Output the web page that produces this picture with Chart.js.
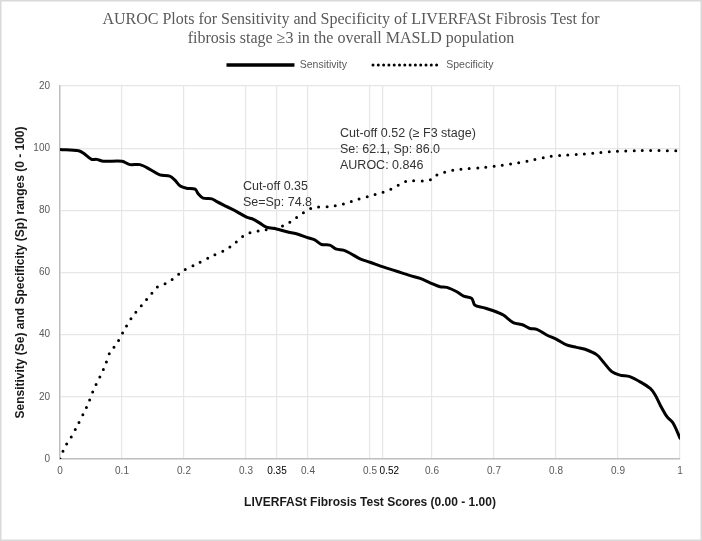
<!DOCTYPE html>
<html><head><meta charset="utf-8">
<script src="https://cdn.jsdelivr.net/npm/chart.js@4.4.1/dist/chart.umd.min.js"></script>
<style>html,body{margin:0;padding:0;background:#fff}</style>
</head><body>
<canvas id="c" width="702" height="541"></canvas>
<script>
// ---- data ----
const sensX = [0, 0.03, 0.038, 0.051, 0.059, 0.07, 0.1, 0.113, 0.129, 0.145, 0.161, 0.177, 0.185, 0.194, 0.204, 0.218, 0.223, 0.231, 0.245, 0.253, 0.269, 0.285, 0.301, 0.312, 0.323, 0.333, 0.349, 0.366, 0.384, 0.398, 0.411, 0.422, 0.435, 0.446, 0.457, 0.468, 0.484, 0.5, 0.521, 0.543, 0.565, 0.581, 0.597, 0.613, 0.624, 0.64, 0.651, 0.664, 0.669, 0.683, 0.699, 0.715, 0.731, 0.747, 0.758, 0.769, 0.785, 0.801, 0.817, 0.833, 0.847, 0.866, 0.876, 0.89, 0.903, 0.919, 0.935, 0.952, 0.96, 0.968, 0.979, 0.989, 1.0];
const sensY = [99.6, 99.2, 98.4, 96.4, 96.4, 95.8, 95.8, 94.7, 94.7, 93.2, 91.4, 91.0, 89.8, 87.8, 87.1, 86.8, 85.3, 83.9, 83.7, 82.8, 81.2, 79.6, 77.8, 77.1, 75.8, 74.6, 74.0, 73.1, 72.3, 71.3, 70.5, 69.0, 68.8, 67.5, 67.2, 66.2, 64.4, 63.3, 61.8, 60.4, 59.0, 58.1, 56.7, 55.4, 55.2, 53.8, 52.4, 51.7, 49.5, 48.7, 47.7, 46.3, 43.9, 43.1, 42.0, 41.7, 39.9, 38.5, 36.7, 35.9, 35.3, 33.5, 31.3, 28.1, 27.0, 26.5, 24.9, 22.7, 20.6, 17.4, 13.6, 11.5, 6.7];
const specX = [0, 0.008, 0.016, 0.027, 0.038, 0.046, 0.054, 0.065, 0.073, 0.081, 0.091, 0.103, 0.116, 0.132, 0.148, 0.156, 0.169, 0.18, 0.199, 0.22, 0.245, 0.266, 0.279, 0.289, 0.3, 0.312, 0.325, 0.349, 0.363, 0.376, 0.387, 0.398, 0.409, 0.433, 0.457, 0.481, 0.505, 0.519, 0.53, 0.54, 0.551, 0.562, 0.589, 0.6, 0.608, 0.618, 0.632, 0.645, 0.685, 0.712, 0.739, 0.763, 0.79, 0.817, 0.844, 0.871, 0.898, 0.93, 1.0];
const specY = [0, 4.0, 6.3, 10.4, 14.7, 18.1, 22.2, 26.7, 30.2, 34.5, 36.9, 41.3, 45.6, 49.5, 53.3, 55.2, 56.3, 57.6, 60.6, 62.7, 65.3, 67.2, 68.9, 70.7, 72.3, 73.1, 73.5, 74.4, 75.3, 76.9, 78.5, 79.9, 80.9, 81.2, 82.0, 83.6, 84.9, 85.7, 86.5, 87.4, 88.7, 89.5, 89.5, 90.0, 91.4, 92.1, 92.8, 93.2, 93.8, 94.5, 95.3, 96.2, 97.3, 97.8, 98.1, 98.6, 99.0, 99.2, 99.2];
const seriesNames = ['Sensitivity', 'Specificity'];
const xTickValues = [0, 0.1, 0.2, 0.3, 0.35, 0.4, 0.5, 0.52, 0.6, 0.7, 0.8, 0.9, 1];
const xTickLabels = ['0', '0.1', '0.2', '0.3', '0.35', '0.4', '0.5', '     0.52', '0.6', '0.7', '0.8', '0.9', '1'];
const xHighlight = [0.35, 0.52];
const yTickValues = [0, 20, 40, 60, 80, 100, 120];
const yTickLabels = ['0', '20', '40', '60', '80', '100', '20'];
const titleLines = ['AUROC Plots for Sensitivity and Specificity of LIVERFASt Fibrosis Test for', 'fibrosis stage \u22653 in the overall MASLD population'];
const xTitle = 'LIVERFASt Fibrosis Test Scores (0.00 - 1.00)';
const yTitle = 'Sensitivity (Se) and Specificity (Sp) ranges (0 - 100)';
const noteA = ['Cut-off 0.35', 'Se=Sp: 74.8'];
const noteB = ['Cut-off 0.52 (\u2265 F3 stage)', 'Se: 62.1, Sp: 86.0', 'AUROC: 0.846'];
// anchors of the notes in data units (x score, y value of first line)
const notes = [
  {x: 0.295, y: 87.5, lines: noteA},
  {x: 0.4516, y: 104.6, lines: noteB}
];

const pts = (xs, ys) => xs.map((x, i) => ({x: x, y: ys[i]}));

const frame = {
  id: 'frame',
  beforeDraw(chart) {
    const c = chart.ctx;
    c.save();
    c.fillStyle = '#fff';
    c.fillRect(0, 0, chart.width, chart.height);
    c.strokeStyle = '#d9d9d9';
    c.lineWidth = 1.5;
    c.strokeRect(0.75, 0.75, chart.width - 1.5, chart.height - 1.5);
    c.restore();
  }
};
const legendShift = {
  id: 'legendShift',
  afterLayout(chart) {
    const lg = chart.legend;
    lg.left += 9; lg.right += 9;
    lg.top -= 5.75; lg.bottom -= 5.75;
  }
};
const notesPlugin = {
  id: 'notes',
  afterDatasetsDraw(chart) {
    const c = chart.ctx, xs = chart.scales.x, ys = chart.scales.y;
    c.save();
    c.font = '12.5px "Liberation Sans", Arial, sans-serif';
    c.fillStyle = '#333333';
    c.textBaseline = 'middle';
    c.textAlign = 'left';
    notes.forEach(n => {
      const px = xs.getPixelForValue(n.x), py = ys.getPixelForValue(n.y);
      n.lines.forEach((t, i) => c.fillText(t, px, py + i * 15.7));
    });
    c.restore();
  }
};

new Chart(document.getElementById('c'), {
  type: 'scatter',
  data: {
    datasets: [
      {label: seriesNames[0], data: pts(sensX, sensY), showLine: true, borderColor: '#000', backgroundColor: '#000',
       borderWidth: 3, pointRadius: 0, tension: 0.3, borderCapStyle: 'round', borderJoinStyle: 'round'},
      {label: seriesNames[1], data: pts(specX, specY), showLine: true, borderColor: '#000', backgroundColor: '#000',
       borderWidth: 3, borderDash: [0, 8.3], borderCapStyle: 'round', pointRadius: 0, tension: 0.3}
    ]
  },
  options: {
    responsive: false,
    animation: false,
    devicePixelRatio: 1,
    layout: {padding: 0},
    plugins: {
      tooltip: {enabled: false},
      title: {
        display: true, text: titleLines, color: '#595959',
        font: {family: '"Liberation Serif", "Times New Roman", serif', size: 16, weight: 'normal', lineHeight: 1.15},
        padding: {top: 11, bottom: -8.3}
      },
      legend: {
        display: true, position: 'top',
        labels: {
          color: '#595959', font: {family: '"Liberation Sans", Arial, sans-serif', size: 10.5},
          usePointStyle: true, pointStyle: 'line', pointStyleWidth: 68, padding: 26,
          generateLabels(chart) {
            const items = Chart.defaults.plugins.legend.labels.generateLabels(chart);
            items.forEach((it, i) => {
              it.pointStyle = 'line';
              it.lineWidth = i === 0 ? 3.5 : 3;
              it.lineCap = i === 0 ? 'butt' : 'round';
              it.lineDash = i === 0 ? [] : [0, 5.3];
            });
            return items;
          }
        }
      }
    },
    scales: {
      x: {
        type: 'linear', min: 0, max: 1,
        afterBuildTicks(scale) { scale.ticks = xTickValues.map(v => ({value: v})); },
        afterFit(scale) { scale.height = 82; },
        ticks: {
          autoSkip: false, maxRotation: 0, padding: 6,
          font: {family: '"Liberation Sans", Arial, sans-serif', size: 10},
          color: ctx => xHighlight.includes(ctx.tick.value) ? '#000' : '#595959',
          callback: (v, i) => xTickLabels[i]
        },
        grid: {color: '#e6e6e6', lineWidth: 1.2, drawTicks: false},
        border: {color: '#bfbfbf', width: 1.5},
        title: {display: true, text: xTitle, color: '#1a1a1a',
          font: {family: '"Liberation Sans", Arial, sans-serif', size: 12, weight: 'bold'},
          padding: {top: 0, bottom: 30.8}}
      },
      y: {
        type: 'linear', min: 0, max: 120, position: 'left',
        afterBuildTicks(scale) { scale.ticks = yTickValues.map(v => ({value: v})); },
        afterFit(scale) { scale.width = 60; },
        ticks: {
          padding: 10, color: '#595959',
          font: {family: '"Liberation Sans", Arial, sans-serif', size: 10},
          callback: (v, i) => yTickLabels[i]
        },
        grid: {color: '#e6e6e6', lineWidth: 1.2, drawTicks: false},
        border: {color: '#bfbfbf', width: 1.5},
        title: {display: true, text: yTitle, color: '#1a1a1a',
          font: {family: '"Liberation Sans", Arial, sans-serif', size: 12, weight: 'bold'},
          padding: {top: 13.8, bottom: 0}}
      },
      yRightSpace: {
        type: 'linear', position: 'right', display: true,
        afterFit(scale) { scale.width = 22; },
        ticks: {display: false},
        grid: {display: false, drawTicks: false},
        border: {display: false}
      }
    }
  },
  plugins: [frame, legendShift, notesPlugin]
});
</script>
</body></html>
